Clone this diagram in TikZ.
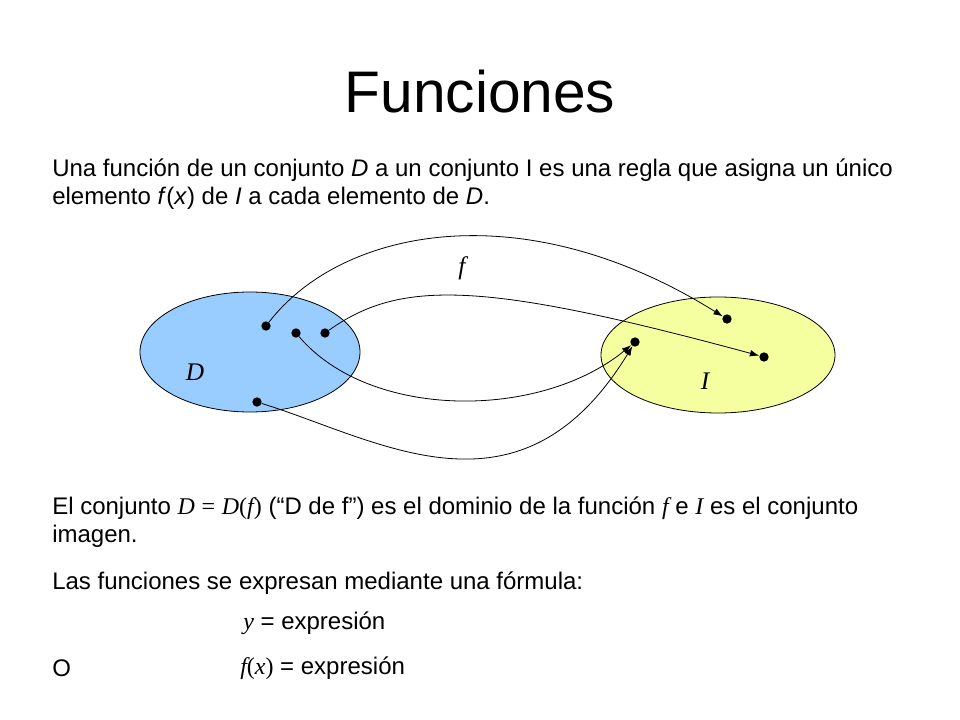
\documentclass[tikz,border=0pt]{standalone}
\usepackage{fontspec}
\setmainfont{Liberation Sans}
\newfontfamily\tms{Liberation Serif}
\usetikzlibrary{positioning,arrows.meta}
\definecolor{setblue}{RGB}{153,204,255}
\definecolor{setyellow}{RGB}{245,255,160}

\begin{document}
\begin{tikzpicture}[x=0.75pt, y=-0.75pt, >={Latex[length=7pt,width=5pt]},
    body/.style={anchor=west, inner sep=0pt, font=\fontsize{18}{21}\selectfont},
    pt/.style={circle, fill=black, inner sep=0pt, minimum size=7pt},
    lbl/.style={font=\tms\itshape\fontsize{19}{22}\selectfont}]

\useasboundingbox (0,0) rectangle (960,720);

% Title
\node[font=\fontsize{44}{50}\selectfont] (title) at (480,92) {Funciones};

% Definition
\node[body] (def1) at (52,170) {Una función de un conjunto \textit{D} a un conjunto I es una regla que asigna un único};
\node[body] (def2) at (52,198) {elemento \textit{f}(\textit{x}) de \textit{I} a cada elemento de \textit{D}.};

% Sets
\draw[fill=setblue, semithick] (250,352) ellipse [x radius=110, y radius=60];
\draw[fill=setyellow, semithick] (718,355) ellipse [x radius=117, y radius=58];
\node[lbl] (setD) at (195,372) {D};
\node[lbl] (setI) at (705,381) {I};
\node[lbl] (fname) at (462,268) {f};

% Elements
\node[pt] (a) at (266,326) {};
\node[pt] (b) at (296,333) {};
\node[pt] (c) at (325,333) {};
\node[pt] (d) at (257,402) {};
\node[pt] (e) at (727,319) {};
\node[pt] (g) at (764,357) {};
\node[pt] (h) at (635,342) {};

% Mapping
\draw[->, semithick] (a) .. controls (340,230) and (520,190) .. (e);
\draw[->, semithick] (c) .. controls (400,280) and (480,280) .. (g);
\draw[->, semithick] (b) .. controls (370,420) and (540,420) .. (h);
\draw[->, semithick] (d) .. controls (380,440) and (520,530) .. (h);

% Description
\node[body] (dom1) at (52,508) {El conjunto {\tms\itshape D} {\tms =} {\tms\itshape D}{\tms(}{\tms\itshape f}{\tms)} (“D de f”) es el dominio de la función {\tms\itshape f} e {\tms\itshape I} es el conjunto};
\node[body] (dom2) at (52,536) {imagen.};
\node[body] (form) at (52,583) {Las funciones se expresan mediante una fórmula:};
\node[body] (eq1) at (243,623) {{\tms\itshape y} = expresión};
\node[body] (alt) at (52,668) {O};
\node[body] (eq2) at (240,668) {{\tms\itshape f}{\tms(}{\tms\itshape x}{\tms)} = expresión};

\end{tikzpicture}
\end{document}
